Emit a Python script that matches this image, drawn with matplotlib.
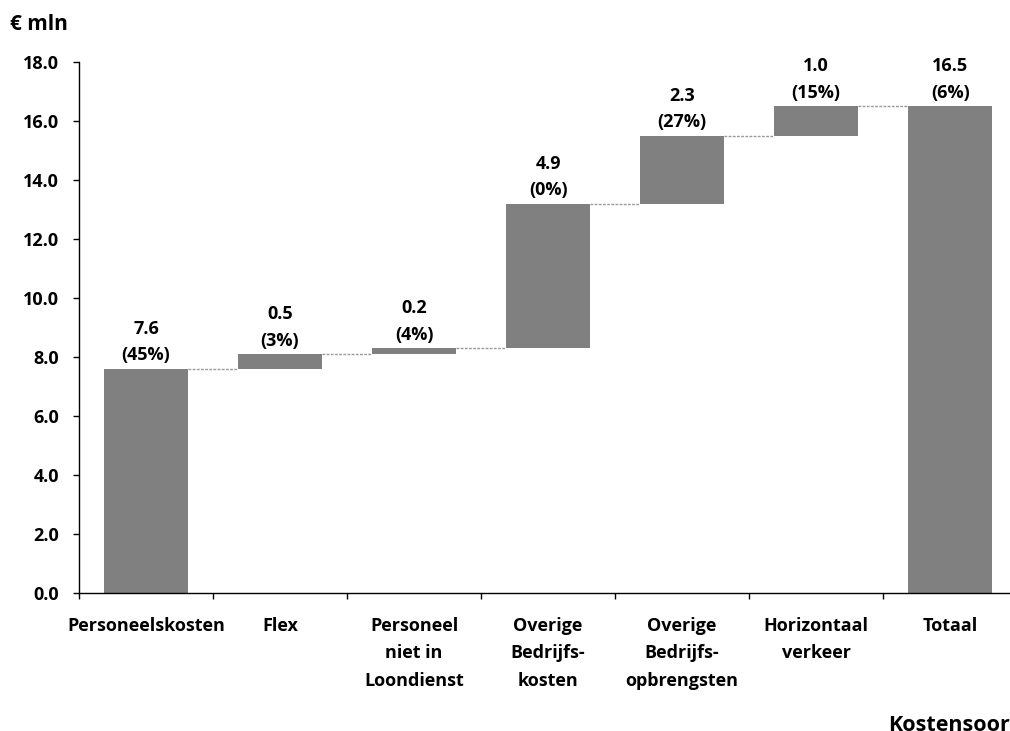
import matplotlib.pyplot as plt
import numpy as np

plt.rcParams['font.family'] = ['Open Sans', 'DejaVu Sans']
plt.rcParams['font.weight'] = 'bold'

categories = ['Personeelskosten', 'Flex', 'Personeel\nniet in\nLoondienst',
              'Overige\nBedrijfs-\nkosten', 'Overige\nBedrijfs-\nopbrengsten',
              'Horizontaal\nverkeer', 'Totaal']
steps = [7.6, 0.5, 0.2, 4.9, 2.3, 1.0]
shares = ['45%', '3%', '4%', '0%', '27%', '15%', '6%']

total = sum(steps)
cum = np.cumsum(steps)
bottoms = np.concatenate([[0], cum[:-1], [0]])
heights = np.array(steps + [total])
tops = bottoms + heights

fig = plt.figure(figsize=(10.10, 7.31), dpi=100)
ax = fig.add_axes([0.0782, 0.1888, 0.929, 0.7264])

x = np.arange(len(categories))
ax.bar(x, heights, bottom=bottoms, width=0.63, color='#808080', zorder=2)

# dotted connectors between consecutive bars
for i in range(len(categories) - 1):
    ax.plot([x[i] + 0.315, x[i + 1] - 0.315], [tops[i], tops[i]],
            ls=(0, (2, 1)), color='#9a9a9a', lw=1, zorder=1)

for i in range(len(categories)):
    ax.text(x[i], tops[i] + 0.15, f'{heights[i]:.1f}\n({shares[i]})',
            ha='center', va='bottom', fontsize=13, fontweight='bold',
            linespacing=1.6)

ax.set_xlim(-0.5, len(categories) - 0.5)
ax.set_ylim(0, 18)
ax.set_yticks(np.arange(0, 18.1, 2))
ax.set_yticklabels([f'{v:.1f}' for v in np.arange(0, 18.1, 2)])
ax.tick_params(axis='y', direction='out', length=4.5, width=1, labelsize=13, pad=10)

ax.set_xticks(np.arange(-0.5, len(categories), 1))
ax.set_xticklabels([])
ax.set_xticks(x, minor=True)
ax.set_xticklabels(categories, minor=True, fontsize=13, fontweight='bold',
                   linespacing=1.7, va='top')
ax.tick_params(axis='x', which='major', direction='out', length=4.5, width=1)
ax.tick_params(axis='x', which='minor', length=0, pad=17)

for s in ['top', 'right']:
    ax.spines[s].set_visible(False)
ax.spines['left'].set_linewidth(1)
ax.spines['bottom'].set_linewidth(1)

fig.text(0.01, 0.966, '€ mln', fontsize=15, fontweight='bold', va='center')
fig.text(0.879, 0.008, 'Kostensoort', fontsize=15.5, fontweight='bold', va='center')

fig.savefig('out.png', dpi=100)
